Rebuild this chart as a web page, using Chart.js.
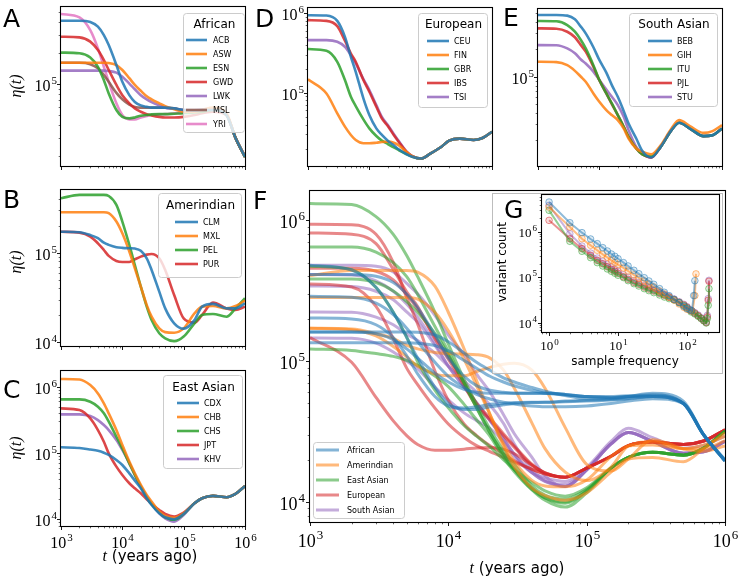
<!DOCTYPE html>
<html>
<head>
<meta charset="utf-8">
<script src="https://cdn.jsdelivr.net/npm/chart.js@4.4.1/dist/chart.umd.min.js"></script>
<style>
  body { margin: 0; background: #fff; }
  #wrap { position: relative; width: 741px; height: 581px; overflow: hidden; background: #fff; }
  #wrap canvas { position: absolute; left: 0; top: 0; }
</style>
</head>
<body>
<div id="wrap">
  <canvas id="cA" width="741" height="581"></canvas>
  <canvas id="cB" width="741" height="581"></canvas>
  <canvas id="cC" width="741" height="581"></canvas>
  <canvas id="cD" width="741" height="581"></canvas>
  <canvas id="cE" width="741" height="581"></canvas>
  <canvas id="cF" width="741" height="581"></canvas>
  <canvas id="cG" width="741" height="581"></canvas>
</div>
<script>
// time grid (years ago) shared by every eta(t) curve
const years = [1e3, 2e3, 3e3, 4e3, 5e3, 6e3, 8e3, 1e4, 1.3e4, 1.6e4, 2e4, 2.5e4, 3e4, 4e4, 5e4, 7e4, 1e5, 1.5e5, 2e5, 3e5, 5e5, 7e5, 1e6];

// eta(t) in thousands
// African
const ACB = [412, 412, 400, 361, 299, 239, 153, 105, 78, 67, 62, 60, 59, 59, 59, 58, 56, 55, 56, 56, 50, 30, 19.7];
const ASW = [161, 161, 161, 161, 161, 160, 153, 137, 114, 98, 86, 76, 71, 65, 61, 57, 54, 54, 56, 59, 52, 30, 20];
const ESN = [202, 199, 181, 147, 109, 81, 56, 48, 46.4, 47.4, 49.3, 50, 50.8, 51, 51, 51.5, 52, 53, 54, 56, 50, 30, 19.5];
const GWD = [288, 284, 258, 214, 171, 137, 98, 78, 65, 58, 53.8, 51, 49.6, 48, 47.4, 47.4, 48, 50, 52, 54, 50, 30, 19.5];
const LWK = [135, 135, 135, 135, 135, 134, 129, 118, 101, 89, 78, 71, 66.8, 62, 59, 57.6, 56, 56, 56.7, 57.6, 50, 30, 19.7];
const MSL = [161, 161, 156, 142, 122, 105, 82, 71, 63, 60, 59, 59, 59, 59, 59, 58, 56, 55, 56, 56.7, 50, 30, 19.7];
const YRI = [479, 443, 334, 222, 147, 105, 65, 50, 45.4, 45.4, 47.4, 48.9, 50, 50.8, 51, 52, 52.7, 53.5, 54.3, 56, 50, 30, 19.5];
// Amerindian
const CLM = [171, 169, 157, 145, 129, 122, 115, 113, 112, 111, 105, 86.5, 64.1, 36.7, 23.9, 16.3, 14.2, 17.7, 25, 26.8, 23.9, 23.9, 27.2];
const MXL = [282, 282, 282, 282, 282, 275, 222, 164, 103, 66.8, 41.8, 26, 19.3, 14.3, 13, 12.8, 14.3, 21, 25, 25.4, 23.9, 25.4, 29.2];
const PEL = [404, 440, 440, 440, 440, 428, 340, 222, 122, 72.8, 41.8, 25, 17.7, 12.6, 11.1, 10.3, 11.6, 16.3, 20.2, 20.7, 19.3, 23.9, 31];
const PUR = [171, 167, 151, 127, 107, 91.9, 80.8, 78.7, 78.7, 84.3, 90.2, 95, 96.6, 86.5, 64.1, 33.7, 18.5, 16.6, 20.2, 27.7, 23.9, 22.9, 25];
// East Asian
const CDX = [122, 119, 113, 108, 101, 93.3, 78.4, 65.9, 49.3, 38.3, 29.3, 20.7, 16.4, 12.3, 10.7, 10, 12, 17.4, 20.7, 22.5, 21.5, 24.1, 31.8];
const CHB = [1310, 1290, 1060, 793, 561, 397, 222, 132, 74, 49.3, 33, 23.3, 18.5, 13.1, 11.2, 10.5, 12.3, 17.4, 20.7, 22.5, 21.5, 24.1, 31.8];
const CHS = [644, 644, 594, 499, 397, 297, 176, 117, 69.8, 46.6, 31, 21.5, 17, 12.6, 10.7, 9.8, 12, 17.4, 20.7, 22.5, 21.5, 24.1, 31.8];
const JPT = [471, 445, 333, 222, 148, 98.8, 62.2, 46.6, 34.9, 29.3, 24.6, 20, 17, 13.8, 12, 11, 12.6, 17.4, 20.7, 22.5, 21.5, 24.1, 31.8];
const KHV = [383, 383, 361, 314, 264, 222, 157, 111, 69.8, 46.6, 31, 22, 17, 12.3, 10.3, 9.2, 11.6, 17.4, 20.7, 22.5, 21.5, 24.1, 31.8];
// European
const CEU = [935, 926, 794, 501, 282, 183, 85, 52.6, 35.8, 29.6, 25.1, 22, 19.6, 17.1, 15.8, 15, 17.4, 21.1, 25.1, 26.6, 25.6, 27.1, 32.5];
const FIN = [147, 98, 55.2, 37.6, 29.6, 25.6, 23.3, 23.3, 23.7, 24.2, 24.4, 23.7, 22, 18.3, 16.1, 15, 17.4, 21.1, 25.1, 26.6, 25.6, 27.1, 32.5];
const GBR = [352, 335, 244, 144, 89.1, 68.1, 46.4, 35.8, 28.7, 25.1, 22.8, 20.7, 19.2, 17.1, 15.8, 15, 17.4, 21.1, 25.1, 26.6, 25.6, 27.1, 32.5];
const IBS = [810, 794, 681, 447, 310, 244, 144, 103, 66.8, 47.8, 38.3, 29.6, 24.4, 18.3, 16.1, 15, 17.4, 21.1, 25.1, 26.6, 25.6, 27.1, 32.5];
const TSI = [455, 455, 434, 376, 296, 233, 148, 108, 70, 50, 39.5, 30.5, 25, 18.6, 16.1, 15, 17.4, 21.1, 25.1, 26.6, 25.6, 27.1, 32.5];
// South Asian
const BEB = [479, 479, 471, 429, 356, 300, 211, 153, 111, 80.9, 60.1, 41.8, 30.5, 20.9, 15.3, 12.9, 16.9, 25.8, 31.1, 26.9, 22.2, 22.7, 26.9];
const GIH = [146, 145, 134, 116, 100, 88, 65.5, 53, 42.9, 37.8, 33.3, 26.9, 20.9, 16.2, 14.9, 14, 17.6, 26.9, 33.3, 28.6, 24.1, 25.2, 29.3];
const ITU = [411, 408, 371, 313, 254, 205, 134, 91.9, 65.5, 50.8, 37.8, 28.1, 21.8, 16.2, 14, 13.3, 16.9, 25.8, 31.1, 26.9, 22.2, 22.7, 26.9];
const PJL = [341, 338, 313, 272, 223, 189, 129, 91.9, 65.5, 50, 37.8, 28.1, 21.8, 16.2, 14, 12.9, 16.9, 25.8, 31.1, 26.9, 22.2, 22.7, 26.9];
const STU = [223, 222, 205, 181, 155, 140, 114, 91.9, 72.4, 60.1, 48.7, 36.2, 25.8, 16.9, 14.3, 12.9, 16.9, 25.8, 31.1, 26.9, 22.2, 22.7, 26.9];

const africanNames = ['ACB', 'ASW', 'ESN', 'GWD', 'LWK', 'MSL', 'YRI'];
const amerNames = ['CLM', 'MXL', 'PEL', 'PUR'];
const eastNames = ['CDX', 'CHB', 'CHS', 'JPT', 'KHV'];
const euroNames = ['CEU', 'FIN', 'GBR', 'IBS', 'TSI'];
const southNames = ['BEB', 'GIH', 'ITU', 'PJL', 'STU'];
const groupNames = ['African', 'Amerindian', 'East Asian', 'European', 'South Asian'];

// site frequency spectra (panel G), one line per super-population, counts in thousands
const freqAfr = [1, 2, 3, 4, 5, 6, 7, 8, 9, 10, 12, 14, 17, 20, 24, 28, 33, 40, 47, 55, 65, 77, 90, 100, 110, 118, 125, 130];
const sfsAfr = [4560, 1600, 967, 702, 554, 453, 382, 328, 292, 259, 212, 179, 144, 121, 99, 83.8, 70.8, 56.9, 47.2, 39.9, 33.1, 28, 23.2, 20.7, 19.5, 18.5, 40, 85];
const freqAmr = [1, 2, 3, 4, 5, 6, 7, 8, 9, 10, 12, 14, 17, 20, 24, 28, 33, 40, 47, 55, 65, 77, 90, 100, 110, 120, 130, 135];
const sfsAmr = [3540, 1290, 713, 509, 396, 323, 277, 238, 212, 191, 162, 139, 114, 97.5, 83.8, 72, 61.8, 50.5, 43.4, 37.2, 32, 26.2, 22.1, 20, 19, 18, 40, 120];
const freqOth = [1, 2, 3, 4, 5, 6, 7, 8, 9, 10, 12, 14, 17, 20, 24, 28, 33, 40, 47, 55, 65, 77, 90, 100, 115, 130, 145, 160, 175, 190, 197, 203, 208];
const sfsEas = [2990, 624, 376, 273, 212, 179, 154, 137, 124, 112, 99.5, 85.1, 73.1, 65, 56.9, 51.4, 46.5, 41.3, 37.2, 34.3, 32, 28, 24.1, 21.4, 17.5, 15.8, 14, 12.5, 11.2, 10, 12.5, 24.4, 56.9];
const sfsEur = [1800, 713, 431, 307, 238, 201, 173, 151, 137, 124, 104, 91.2, 78.3, 70.8, 61.8, 55.8, 50.5, 44.9, 40.6, 36.6, 32.6, 28.5, 24.9, 22.1, 18.7, 16.3, 14.5, 12.7, 11.2, 10.2, 13.6, 31.5, 82.4];
const sfsSas = [3850, 918, 492, 345, 268, 227, 195, 170, 151, 137, 115, 101, 85.1, 76.9, 66.2, 59.8, 53.1, 46.5, 42, 37.9, 33.7, 29.4, 25.7, 22.9, 19, 16.9, 15, 13.1, 11.6, 10.5, 14.7, 34.3, 86.6];

const W = 741, H = 581;
const tab = ['#1f77b4', '#ff7f0e', '#2ca02c', '#d62728', '#9467bd', '#8c564b', '#e377c2'];

function rgba(hex, a) {
    const n = parseInt(hex.slice(1), 16);
    return `rgba(${(n >> 16) & 255}, ${(n >> 8) & 255}, ${n & 255}, ${a})`;
}

function toPts(vals) {
    return years.map((t, i) => ({ x: t, y: vals[i] * 1000 }));
}

function lineSet(label, vals, color, width, alpha) {
    return {
        label: label,
        data: toPts(vals),
        borderColor: rgba(color, alpha),
        borderWidth: width,
        pointRadius: 0,
        cubicInterpolationMode: 'monotone',
        fill: false
    };
}

function logTicks(min, max) {
    const out = [];
    for (let e = Math.floor(Math.log10(min)); e <= Math.ceil(Math.log10(max)); e++) {
        for (let m = 1; m < 10; m++) {
            const v = m * Math.pow(10, e);
            if (v >= min * 0.9999 && v <= max * 1.0001) out.push({ v: v, e: e, major: m === 1 });
        }
    }
    return out;
}

const SERIF = '"Liberation Serif", "DejaVu Serif", serif';
const SANS = '"DejaVu Sans", sans-serif';

function powLabel(c, x, y, e, size, align) {
    const sup = String(e);
    const ss = Math.round(size * 0.7);
    c.font = size + 'px ' + SERIF;
    const wb = c.measureText('10').width;
    c.font = ss + 'px ' + SERIF;
    const ws = c.measureText(sup).width;
    const w = wb + ws + 1;
    const x0 = align === 'right' ? x - w : x - w / 2;
    c.textAlign = 'left';
    c.textBaseline = 'alphabetic';
    c.font = size + 'px ' + SERIF;
    c.fillText('10', x0, y);
    c.font = ss + 'px ' + SERIF;
    c.fillText(sup, x0 + wb + 1, y - size * 0.42);
}

function drawLegend(c, L) {
    c.save();
    c.fillStyle = 'rgba(255,255,255,0.8)';
    c.strokeStyle = '#cccccc';
    c.lineWidth = 1;
    c.beginPath();
    if (c.roundRect) c.roundRect(L.left + 0.5, L.top + 0.5, L.width, L.height, 3);
    else c.rect(L.left + 0.5, L.top + 0.5, L.width, L.height);
    c.fill();
    c.stroke();
    c.fillStyle = '#000';
    if (L.title) {
        c.font = L.titleSize + 'px ' + SANS;
        c.textAlign = 'center';
        c.textBaseline = 'middle';
        c.fillText(L.title, L.left + L.width / 2 + 1, L.titleY);
    }
    L.items.forEach((it, i) => {
        const yy = L.rowY0 + i * L.gap;
        c.strokeStyle = it.color;
        c.lineWidth = L.lw;
        c.beginPath();
        c.moveTo(L.hx0, yy);
        c.lineTo(L.hx1, yy);
        c.stroke();
        c.fillStyle = '#000';
        c.font = L.size + 'px ' + SANS;
        c.textAlign = 'left';
        c.textBaseline = 'middle';
        c.fillText(it.label, L.tx, yy + 0.5);
    });
    c.restore();
}

// frame, ticks, tick labels, legend and axis titles for each panel
const decor = {
    id: 'decor',
    beforeDraw(chart, args, o) {
        if (!o.inset) return;
        const c = chart.ctx, r = o.inset;
        c.save();
        c.fillStyle = 'rgba(255,255,255,0.8)';
        c.strokeStyle = '#bdbdbd';
        c.lineWidth = 1;
        c.fillRect(r.l, r.t, r.r - r.l, r.b - r.t);
        c.strokeRect(r.l + 0.5, r.t + 0.5, r.r - r.l, r.b - r.t);
        c.restore();
    },
    afterDraw(chart, args, o) {
        if (!o.tickSize) return;
        const c = chart.ctx, a = chart.chartArea;
        const sx = chart.scales.x, sy = chart.scales.y;
        c.save();
        c.strokeStyle = '#000';
        c.fillStyle = '#000';
        logTicks(sx.min, sx.max).forEach(t => {
            const px = Math.round(sx.getPixelForValue(t.v)) + 0.5;
            c.lineWidth = t.major ? 0.9 : 0.6;
            c.beginPath();
            c.moveTo(px, a.bottom);
            c.lineTo(px, a.bottom + (t.major ? 4 : 2.3));
            c.stroke();
            if (t.major && o.xLabels) powLabel(c, px, a.bottom + o.xDy, t.e, o.tickSize, 'center');
        });
        logTicks(sy.min, sy.max).forEach(t => {
            const py = Math.round(sy.getPixelForValue(t.v)) + 0.5;
            c.lineWidth = t.major ? 0.9 : 0.6;
            c.beginPath();
            c.moveTo(a.left, py);
            c.lineTo(a.left - (t.major ? 4 : 2.3), py);
            c.stroke();
            if (t.major) powLabel(c, a.left - o.yDx, py + o.yDy, t.e, o.tickSize, 'right');
        });
        c.lineWidth = 1.1;
        c.strokeRect(a.left - 0.5, a.top - 0.5, a.right - a.left + 1, a.bottom - a.top + 1);

        if (o.legend) drawLegend(c, o.legend);

        if (o.letter) {
            c.font = '25px ' + SANS;
            c.textAlign = 'left';
            c.textBaseline = 'alphabetic';
            c.fillText(o.letter.text, o.letter.x, o.letter.y);
        }
        if (o.eta) {
            c.save();
            c.translate(o.eta.x, o.eta.y);
            c.rotate(-Math.PI / 2);
            c.font = 'italic 16px ' + SERIF;
            c.textAlign = 'center';
            c.textBaseline = 'middle';
            c.fillText('\u03b7(t)', 0, 0);
            c.restore();
        }
        if (o.tlabel) {
            c.font = 'italic 16px ' + SERIF;
            const wt = c.measureText('t').width;
            c.font = '15px ' + SANS;
            const wr = c.measureText(' (years ago)').width;
            const x0 = o.tlabel.x - (wt + wr) / 2;
            c.textAlign = 'left';
            c.font = 'italic 16px ' + SERIF;
            c.fillText('t', x0, o.tlabel.y);
            c.font = '15px ' + SANS;
            c.fillText(' (years ago)', x0 + wt, o.tlabel.y);
        }
        if (o.text) {
            o.text.forEach(t => {
                c.save();
                c.translate(t.x, t.y);
                if (t.rot) c.rotate(-Math.PI / 2);
                c.font = t.size + 'px ' + SANS;
                c.textAlign = 'center';
                c.textBaseline = 'middle';
                c.fillText(t.s, 0, 0);
                c.restore();
            });
        }
        c.restore();
    }
};
Chart.register(decor);

function panel(id, box, xr, yr, datasets, deco) {
    return new Chart(document.getElementById(id), {
        type: 'line',
        data: { datasets: datasets },
        options: {
            responsive: false,
            animation: false,
            devicePixelRatio: 1,
            layout: { padding: { left: box.l, top: box.t, right: W - box.r, bottom: H - box.b } },
            scales: {
                x: { type: 'logarithmic', min: xr[0], max: xr[1], display: false },
                y: { type: 'logarithmic', min: yr[0], max: yr[1], display: false }
            },
            plugins: { legend: { display: false }, tooltip: { enabled: false }, decor: deco }
        }
    });
}

const small = { tickSize: 16, yDx: 4, yDy: 6, xDy: 22 };

function legendFor(names, colors, geo) {
    return Object.assign({ items: names.map((n, i) => ({ label: n, color: rgba(colors[i], 0.85) })), lw: 2.6, size: 8, titleSize: 12, gap: 14 }, geo);
}

// A - African
const afrSeries = [ACB, ASW, ESN, GWD, LWK, MSL, YRI];
panel('cA', { l: 61, t: 7, r: 245, b: 166 }, [1e3, 1e6], [16000, 560000],
    africanNames.map((n, i) => lineSet(n, afrSeries[i], tab[i], 2.6, 0.85)),
    Object.assign({}, small, {
        letter: { text: 'A', x: 3, y: 27 }, eta: { x: 17, y: 86 },
        legend: legendFor(africanNames, tab, { title: 'African', left: 183, top: 13, width: 61, height: 119, titleY: 25, rowY0: 40, hx0: 186, hx1: 207, tx: 213 })
    }));

// B - Amerindian
const amrSeries = [CLM, MXL, PEL, PUR];
panel('cB', { l: 61, t: 190, r: 245, b: 346 }, [1e3, 1e6], [9100, 499000],
    amerNames.map((n, i) => lineSet(n, amrSeries[i], tab[i], 2.6, 0.85)),
    Object.assign({}, small, {
        letter: { text: 'B', x: 3, y: 208 }, eta: { x: 17, y: 262 },
        legend: legendFor(amerNames, tab, { title: 'Amerindian', left: 158, top: 193, width: 83, height: 84, titleY: 206, rowY0: 222, hx0: 175, hx1: 198, tx: 203 })
    }));

// C - East Asian
const easSeries = [CDX, CHB, CHS, JPT, KHV];
panel('cC', { l: 61, t: 371, r: 245, b: 526 }, [1e3, 1e6], [7900, 1.73e6],
    eastNames.map((n, i) => lineSet(n, easSeries[i], tab[i], 2.6, 0.85)),
    Object.assign({}, small, {
        xLabels: true,
        letter: { text: 'C', x: 3, y: 398 }, eta: { x: 17, y: 448 },
        tlabel: { x: 150, y: 561 },
        legend: legendFor(eastNames, tab, { title: 'East Asian', left: 163, top: 375, width: 79, height: 93, titleY: 388, rowY0: 403, hx0: 177, hx1: 199, tx: 204 })
    }));

// D - European
const eurSeries = [CEU, FIN, GBR, IBS, TSI];
panel('cD', { l: 308, t: 8, r: 492, b: 166 }, [1e3, 1e6], [12100, 1.15e6],
    euroNames.map((n, i) => lineSet(n, eurSeries[i], tab[i], 2.6, 0.85)),
    Object.assign({}, small, {
        letter: { text: 'D', x: 255, y: 27 },
        legend: legendFor(euroNames, tab, { title: 'European', left: 418, top: 13, width: 69, height: 94, titleY: 25, rowY0: 41, hx0: 427, hx1: 449, tx: 454 })
    }));

// E - South Asian
const sasSeries = [BEB, GIH, ITU, PJL, STU];
panel('cE', { l: 538, t: 9, r: 722, b: 166 }, [1e3, 1e6], [10400, 557000],
    southNames.map((n, i) => lineSet(n, sasSeries[i], tab[i], 2.6, 0.85)),
    Object.assign({}, small, {
        letter: { text: 'E', x: 503, y: 26 },
        legend: legendFor(southNames, tab, { title: 'South Asian', left: 629, top: 13, width: 88, height: 93, titleY: 25, rowY0: 41, hx0: 648, hx1: 672, tx: 677 })
    }));

// F - all populations coloured by super-population
const allGroups = [
    [africanNames, afrSeries], [amerNames, amrSeries], [eastNames, easSeries], [euroNames, eurSeries], [southNames, sasSeries]
];
const fSets = [];
allGroups.forEach((g, gi) => {
    g[0].forEach((n, i) => fSets.push(lineSet(n, g[1][i], tab[gi], 3, 0.55)));
});
panel('cF', { l: 310, t: 191, r: 725, b: 522 }, [1e3, 1e6], [7210, 1.61e6], fSets, {
    tickSize: 18, yDx: 5, yDy: 7, xDy: 25, xLabels: true,
    letter: { text: 'F', x: 253, y: 209 },
    tlabel: { x: 517, y: 573 },
    legend: { items: groupNames.map((n, i) => ({ label: n, color: rgba(tab[i], 0.55) })), lw: 3, size: 8, gap: 15,
        left: 313, top: 442, width: 91, height: 76, rowY0: 450, hx0: 316, hx1: 339, tx: 347 }
});

// G - SFS inset
function sfsSet(freq, counts, color) {
    return {
        label: '',
        data: freq.map((f, i) => ({ x: f, y: counts[i] * 1000 })),
        borderColor: rgba(color, 0.5),
        backgroundColor: rgba(color, 0.15),
        pointBorderColor: rgba(color, 0.5),
        borderWidth: 2,
        pointRadius: 3.3,
        pointBorderWidth: 1,
        fill: false,
        tension: 0
    };
}
panel('cG', { l: 542, t: 195, r: 719, b: 332 }, [0.79, 291], [6340, 6.5e6], [
    sfsSet(freqAfr, sfsAfr, tab[0]),
    sfsSet(freqAmr, sfsAmr, tab[1]),
    sfsSet(freqOth, sfsEas, tab[2]),
    sfsSet(freqOth, sfsEur, tab[3]),
    sfsSet(freqOth, sfsSas, tab[4])
], {
    tickSize: 13, yDx: 5, yDy: 4, xDy: 18, xLabels: true,
    inset: { l: 492, t: 193, r: 722, b: 373 },
    letter: { text: 'G', x: 504, y: 218 },
    text: [
        { s: 'variant count', x: 503, y: 262, size: 12, rot: true },
        { s: 'sample frequency', x: 625, y: 362, size: 12 }
    ]
});
</script>
</body>
</html>
